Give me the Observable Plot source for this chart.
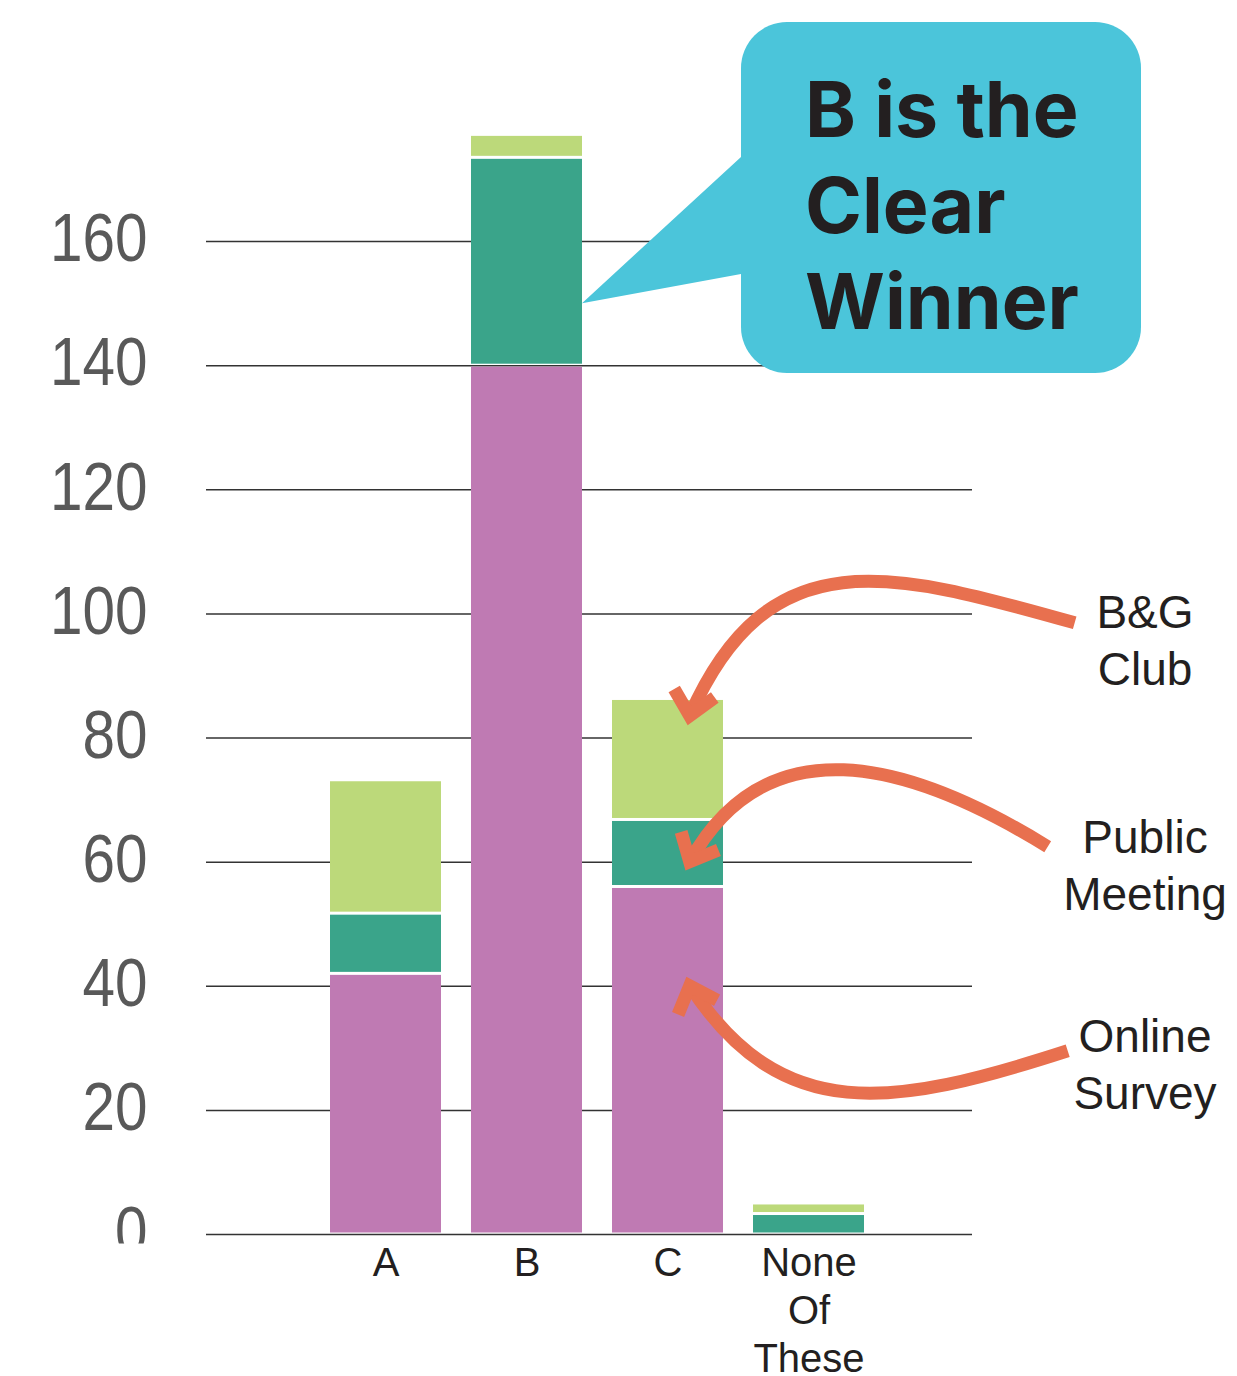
<!DOCTYPE html>
<html><head><meta charset="utf-8">
<script src="https://cdn.jsdelivr.net/npm/d3@7"></script>
<script src="https://cdn.jsdelivr.net/npm/@observablehq/plot@0.6"></script>
<style>
html,body{margin:0;padding:0;background:#fff;}
#chart{width:1237px;height:1376px;overflow:hidden;}
svg{font-family:"Liberation Sans",Arial,sans-serif;}
</style></head><body><div id="chart"></div>
<script>
// ---- data ----
const categories = ["A", "B", "C", "None Of These"];
const series = ["Online Survey", "Public Meeting", "B&G Club"];
const onlineSurvey  = [42, 140, 56, 0];
const publicMeeting = [9.7, 33.5, 10.8, 3.3];
const bgClub        = [21.5, 3.7, 19.5, 1.7];
const yTicks = [0, 20, 40, 60, 80, 100, 120, 140, 160];
const seriesColors = ["#BF7AB3", "#3AA48A", "#BCD97A"];
const calloutLines = ["B is the", "Clear", "Winner"];
const calloutTarget = {category: "B", value: 150};

// annotation arrows: target on bar C (value), geometry as pixel offsets from the target
const annotations = [
  {label: ["B&G", "Club"],       labelValue: 97.6, targetValue: 83.5, tail: [385, -93], c1: [201, -145], c2: [79, -179], head: -78},
  {label: ["Public", "Meeting"], labelValue: 61.4, targetValue: 60,   tail: [358, -15], c1: [215, -103], c2: [76, -137], head: -64},
  {label: ["Online", "Survey"],  labelValue: 29.3, targetValue: 40,   tail: [378, 65],  c1: [202, 122],  c2: [92, 140],  head: 70}
];

const rows = [];
categories.forEach((c, i) => {
  rows.push({category: c, series: series[0], value: onlineSurvey[i]});
  rows.push({category: c, series: series[1], value: publicMeeting[i]});
  rows.push({category: c, series: series[2], value: bgClub[i]});
});

const W = 1237, H = 1376;
const plot = Plot.plot({
  width: W, height: H,
  marginTop: 117, marginBottom: 142, marginLeft: 206, marginRight: 265,
  style: {fontFamily: "'Liberation Sans', Arial, sans-serif", background: "#fff"},
  x: {domain: categories, range: [298, 896], paddingInner: 0.2113, paddingOuter: 0.2113, label: null},
  y: {domain: [0, 180], label: null},
  color: {domain: series, range: seriesColors},
  marks: [
    Plot.ruleY(yTicks.slice(1), {stroke: "#333", strokeWidth: 1.5}),
    Plot.barY(rows, {x: "category", y: "value", fill: "series", insetTop: 1.5, insetBottom: 1.5}),
    Plot.ruleY([0], {stroke: "#333", strokeWidth: 1.5}),
    Plot.axisY(yTicks, {tickSize: 0, tickPadding: 59, fontSize: 68, color: "#595959", fill: "#595959", label: null, dy: -2}),
    Plot.axisX({tickSize: 0, tickPadding: 7, fontSize: 40, color: "#231F20", fill: "#231F20", lineHeight: 1.2,
      tickFormat: d => d.split(" ").length > 1 ? d.split(" ").join("\n") : d, label: null})
  ]
});
document.getElementById("chart").appendChild(plot);

const svg = d3.select(plot);
const xs = plot.scale("x"), ys = plot.scale("y");
const bw = xs.bandwidth;

// condense y tick labels horizontally; clip the zero label like the original
const yLab = svg.select('g[aria-label="y-axis tick label"]');
yLab.selectAll("text").each(function () {
  const t = d3.select(this);
  const tr = t.attr("transform");
  if (tr && tr.includes("translate")) t.attr("transform", tr + " scale(0.86,1)");
  else {
    const x = +t.attr("x") || 0;
    t.attr("transform", `translate(${x},0) scale(0.86,1) translate(${-x},0)`);
  }
});
const defs = svg.append("defs");
defs.append("clipPath").attr("id", "yclip").append("rect")
  .attr("x", -2000).attr("y", -2000).attr("width", 5000).attr("height", 2000 + ys.apply(0) + 11);
yLab.attr("clip-path", "url(#yclip)");

// ---- callout ----
const box = {x: 741, y: 22, w: 400, h: 351, r: 46};
const tipX = xs.apply(calloutTarget.category) + bw, tipY = ys.apply(calloutTarget.value);
const cg = svg.append("g").attr("text-anchor", "start");
cg.append("path")
  .attr("d", `M${tipX},${tipY}L${box.x},${box.y + 135}L${box.x + 20},${box.y + 135}L${box.x + 20},${box.y + 252}L${box.x},${box.y + 252}Z`)
  .attr("fill", "#4BC5DA");
cg.append("rect").attr("x", box.x).attr("y", box.y).attr("width", box.w).attr("height", box.h)
  .attr("rx", box.r).attr("fill", "#4BC5DA");
calloutLines.forEach((s, i) => {
  cg.append("text").attr("x", box.x + 64).attr("y", box.y + 115 + i * 96)
    .attr("text-anchor", "start")
    .attr("font-family", "Inter, 'Open Sans', sans-serif").attr("font-weight", 700)
    .attr("font-size", 77).attr("fill", "#231F20").text(s);
});

// ---- arrows ----
const ac = "#E8704F";
const ag = svg.append("g");
annotations.forEach(a => {
  const tx = xs.apply("C") + bw * 0.7, ty = ys.apply(a.targetValue);
  const P0 = [tx + a.tail[0], ty + a.tail[1]];
  const P1 = [tx + a.c1[0], ty + a.c1[1]];
  const P2 = [tx + a.c2[0], ty + a.c2[1]];
  ag.append("path").attr("d", `M${P0}C${P1} ${P2} ${tx},${ty}`)
    .attr("fill", "none").attr("stroke", ac).attr("stroke-width", 13).attr("stroke-linecap", "butt");
  const back = a.head * Math.PI / 180;
  const spread = 42 * Math.PI / 180, len = 31;
  const l = [tx + len * Math.cos(back - spread), ty + len * Math.sin(back - spread)];
  const r = [tx + len * Math.cos(back + spread), ty + len * Math.sin(back + spread)];
  ag.append("path").attr("d", `M${l}L${tx},${ty}L${r}`)
    .attr("fill", "none").attr("stroke", ac).attr("stroke-width", 13)
    .attr("stroke-linejoin", "miter").attr("stroke-linecap", "butt");
  const lx = 1145, ly = ys.apply(a.labelValue);
  a.label.forEach((s, i) => {
    ag.append("text").attr("x", lx).attr("y", ly + i * 57).attr("text-anchor", "middle")
      .attr("font-family", "'Liberation Sans', Arial, sans-serif").attr("font-size", 46)
      .attr("fill", "#231F20").text(s);
  });
});
</script></body></html>
